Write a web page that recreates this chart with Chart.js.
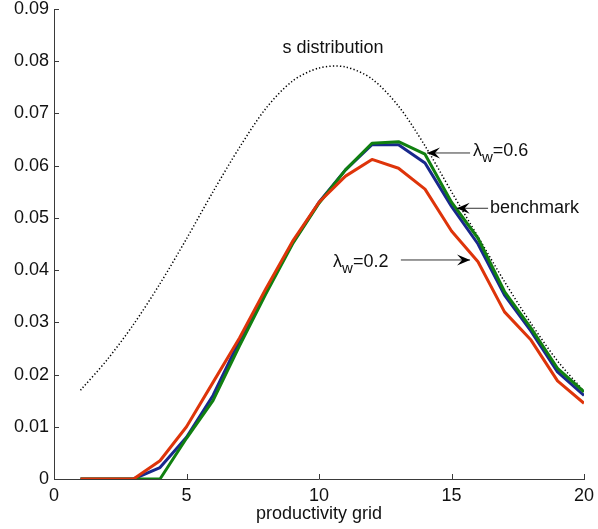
<!DOCTYPE html>
<html>
<head>
<meta charset="utf-8">
<script src="https://cdn.jsdelivr.net/npm/chart.js@4/dist/chart.umd.min.js"></script>
<style>
  html, body { margin: 0; padding: 0; background: #ffffff; }
  #wrap { width: 598px; height: 529px; }
</style>
</head>
<body>
<div id="wrap"><canvas id="c" width="598" height="529"></canvas></div>
<script>
// ---- data ----
const grid = [1,2,3,4,5,6,7,8,9,10,11,12,13,14,15,16,17,18,19,20];
const sDistribution = [0.0170,0.0228,0.0296,0.0374,0.0460,0.0550,0.0635,0.0710,0.0762,0.0787,
                       0.0789,0.0766,0.0714,0.0638,0.0550,0.0464,0.0378,0.0298,0.0226,0.0168];
const benchmark = [0,0,0,0.0022,0.0080,0.0160,0.0265,0.0360,0.0452,0.0530,
                   0.0592,0.0640,0.0640,0.0605,0.0522,0.0450,0.0352,0.0283,0.0205,0.0160];
const lambda06 = [0,0,0,0,0.0078,0.0150,0.0255,0.0355,0.0450,0.0528,
                  0.0592,0.0643,0.0646,0.0622,0.0530,0.0461,0.0359,0.0289,0.0212,0.0167];
const lambda02 = [0,0,0,0.0035,0.0100,0.0185,0.0270,0.0365,0.0455,0.0530,
                  0.0580,0.0612,0.0595,0.0555,0.0475,0.0416,0.0320,0.0266,0.0188,0.0145];
const xTicks = [0,5,10,15,20];
const yTicks = [0,0.01,0.02,0.03,0.04,0.05,0.06,0.07,0.08,0.09];

const toPts = arr => grid.map((g, i) => ({x: g, y: arr[i]}));

const FONT = '"Liberation Sans", Arial, Helvetica, sans-serif';

// annotations in data coordinates
const notes = [
  {parts: [['s distribution', 0]], x: 10.53, y: 0.0816, align: 'center'},
  {parts: [['\u03bb', 0], ['w', 6, 15], ['=0.6', 0]], x: 15.81, y: 0.0619, align: 'left',
   arrow: {from: [15.70, 0.06243], to: [14.075, 0.06243]}},
  {parts: [['benchmark', 0]], x: 16.45, y: 0.0509, align: 'left',
   arrow: {from: [16.38, 0.05184], to: [15.196, 0.05184]}},
  {parts: [['\u03bb', 0], ['w', 6, 15], ['=0.2', 0]], x: 10.53, y: 0.0406, align: 'left',
   arrow: {from: [13.09, 0.04194], to: [15.70, 0.04194]}}
];

const notePlugin = {
  id: 'notes',
  afterDatasetsDraw(chart) {
    const ctx = chart.ctx, xs = chart.scales.x, ys = chart.scales.y;
    ctx.save();
    // inward ticks
    ctx.strokeStyle = '#3a3a3a';
    ctx.lineWidth = 1;
    ctx.beginPath();
    xTicks.forEach(t => {
      const px = Math.round(xs.getPixelForValue(t)) + 0.5;
      ctx.moveTo(px, ys.bottom); ctx.lineTo(px, ys.bottom - 5);
    });
    yTicks.forEach(t => {
      const py = Math.round(ys.getPixelForValue(t)) + 0.5;
      ctx.moveTo(xs.left, py); ctx.lineTo(xs.left + 5, py);
    });
    ctx.stroke();

    notes.forEach(n => {
      ctx.fillStyle = '#111';
      ctx.textBaseline = 'alphabetic';
      ctx.textAlign = 'left';
      const widths = n.parts.map(p => { ctx.font = (p[2] || 18) + 'px ' + FONT; return ctx.measureText(p[0]).width; });
      const total = widths.reduce((a, b) => a + b, 0);
      let px = xs.getPixelForValue(n.x);
      if (n.align === 'center') px -= total / 2;
      const py = ys.getPixelForValue(n.y);
      n.parts.forEach((p, i) => {
        ctx.font = (p[2] || 18) + 'px ' + FONT;
        ctx.fillText(p[0], px, py + p[1]);
        px += widths[i];
      });
      if (n.arrow) {
        const x1 = xs.getPixelForValue(n.arrow.from[0]), y1 = ys.getPixelForValue(n.arrow.from[1]);
        const x2 = xs.getPixelForValue(n.arrow.to[0]), y2 = ys.getPixelForValue(n.arrow.to[1]);
        ctx.strokeStyle = '#333';
        ctx.lineWidth = 1;
        ctx.beginPath(); ctx.moveTo(x1, y1); ctx.lineTo(x2, y2); ctx.stroke();
        const ang = Math.atan2(y2 - y1, x2 - x1);
        const L = 13, W = 5.5, N = 8;
        ctx.fillStyle = '#000';
        ctx.beginPath();
        ctx.moveTo(x2, y2);
        ctx.lineTo(x2 - L * Math.cos(ang) + W * Math.sin(ang), y2 - L * Math.sin(ang) - W * Math.cos(ang));
        ctx.lineTo(x2 - N * Math.cos(ang), y2 - N * Math.sin(ang));
        ctx.lineTo(x2 - L * Math.cos(ang) - W * Math.sin(ang), y2 - L * Math.sin(ang) + W * Math.cos(ang));
        ctx.closePath();
        ctx.fill();
      }
    });
    ctx.restore();
  }
};

const fmt = v => String(+v.toFixed(2));

new Chart(document.getElementById('c'), {
  type: 'line',
  data: {
    datasets: [
      {label: 'λw=0.2', data: toPts(lambda02), borderColor: 'rgb(222,52,10)', borderWidth: 3, order: 0},
      {label: 'λw=0.6', data: toPts(lambda06), borderColor: 'rgb(16,128,16)', borderWidth: 3, order: 1},
      {label: 'benchmark', data: toPts(benchmark), borderColor: 'rgb(24,40,140)', borderWidth: 3, order: 2},
      {label: 's distribution', data: toPts(sDistribution), borderColor: '#000', borderWidth: 1.5,
       borderDash: [1.3, 2.2], tension: 0.3, order: 3}
    ]
  },
  options: {
    responsive: false,
    animation: false,
    events: [],
    elements: {point: {radius: 0}, line: {borderJoinStyle: 'round', borderCapStyle: 'butt', fill: false}},
    layout: {padding: {top: 9, right: 14, left: 0, bottom: 0}},
    plugins: {legend: {display: false}, tooltip: {enabled: false}},
    scales: {
      x: {
        type: 'linear', min: 0, max: 20,
        afterBuildTicks: s => { s.ticks = xTicks.map(v => ({value: v})); },
        afterFit: s => { s.height = 50; s.paddingLeft = 0; s.paddingRight = 0; },
        grid: {display: false, drawTicks: false},
        border: {display: true, color: '#3a3a3a', width: 1},
        ticks: {padding: 6, color: '#111', font: {family: FONT, size: 18}, callback: fmt, maxRotation: 0},
        title: {display: true, text: 'productivity grid', color: '#111', font: {family: FONT, size: 18}, padding: {top: 0, bottom: 4}}
      },
      y: {
        type: 'linear', min: 0, max: 0.09,
        afterBuildTicks: s => { s.ticks = yTicks.map(v => ({value: v})); },
        afterFit: s => { s.width = 54; s.paddingTop = 0; s.paddingBottom = 0; },
        grid: {display: false, drawTicks: false},
        border: {display: true, color: '#3a3a3a', width: 1},
        ticks: {padding: 5, color: '#111', font: {family: FONT, size: 18}, callback: fmt}
      }
    }
  },
  plugins: [notePlugin]
});
</script>
</body>
</html>
